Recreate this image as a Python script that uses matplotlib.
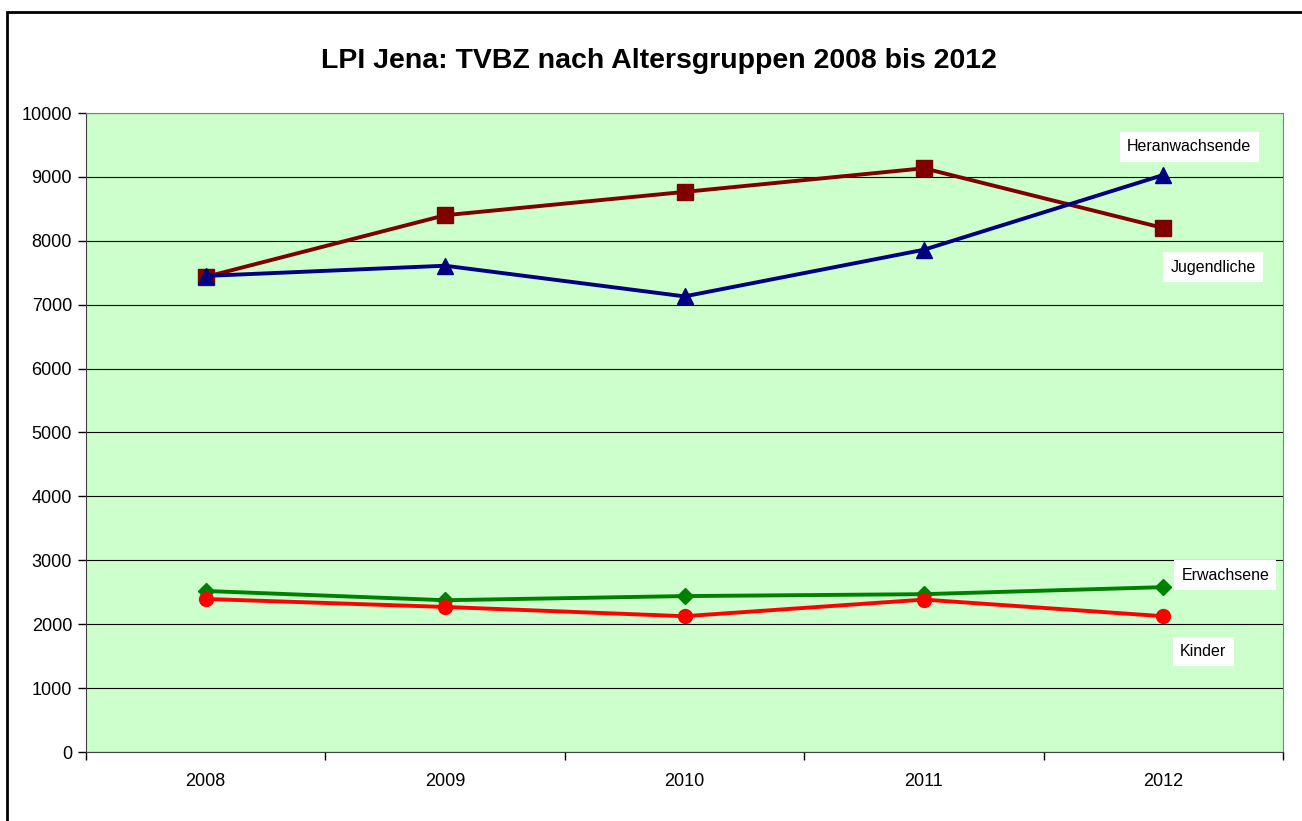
import matplotlib.pyplot as plt
import matplotlib.patches as patches
import numpy as np

# Data
years = ['2008', '2009', '2010', '2011', '2012']
heranwachsende = [7450, 7610, 7130, 7860, 9030]
jugendliche = [7435, 8400, 8765, 9135, 8200]
erwachsene = [2520, 2375, 2440, 2470, 2580]
kinder = [2395, 2270, 2125, 2385, 2125]

plt.rcParams['font.family'] = ['Liberation Sans', 'DejaVu Sans']

fig = plt.figure(figsize=(13.02, 8.21), dpi=100)
W, H = 1302, 821
ax = fig.add_axes([86/W, 1-752/H, (1283-86)/W, (752-113)/H])
ax.set_facecolor('#CCFFCC')

x = np.arange(len(years))

ax.plot(x, jugendliche, color='#800000', lw=2.8, marker='s', ms=11, zorder=3)
ax.plot(x, heranwachsende, color='#000080', lw=2.8, marker='^', ms=11, zorder=4)
ax.plot(x, erwachsene, color='#008000', lw=2.8, marker='D', ms=8, zorder=3)
ax.plot(x, kinder, color='#FF0000', lw=2.8, marker='o', ms=10, zorder=3)

# series name labels next to the last point
lab = dict(textcoords='offset pixels', ha='center', va='center', fontsize=11.5,
           bbox=dict(boxstyle='square,pad=0.45', fc='white', ec='none'))
ax.annotate('Heranwachsende', (x[-1], heranwachsende[-1]), xytext=(26, 28), **lab)
ax.annotate('Jugendliche', (x[-1], jugendliche[-1]), xytext=(50, -39), **lab)
ax.annotate('Erwachsene', (x[-1], erwachsene[-1]), xytext=(62, 12), **lab)
ax.annotate('Kinder', (x[-1], kinder[-1]), xytext=(40, -35), **lab)

ax.set_xlim(-0.5, 4.5)
ax.set_ylim(0, 10000)
ax.set_yticks(np.arange(0, 10001, 1000))
ax.yaxis.grid(True, color='black', lw=0.8)
ax.set_axisbelow(True)

ax.set_xticks(x)
ax.set_xticklabels(years)
ax.set_xticks(np.arange(-0.5, 5, 1), minor=True)
ax.tick_params(axis='x', which='major', length=0, pad=15, labelsize=13)
ax.tick_params(axis='x', which='minor', length=6, width=1, direction='out')
ax.tick_params(axis='y', length=6, width=1, labelsize=13, pad=4)

for s in ['top', 'right']:
    ax.spines[s].set_color('#808080')
ax.spines['left'].set_color('#404040')
ax.spines['bottom'].set_color('#404040')

fig.text(659/W, 1-61/H, 'LPI Jena: TVBZ nach Altersgruppen 2008 bis 2012',
         ha='center', va='center', fontsize=20.5, fontweight='bold')

# outer chart frame
frame = patches.Rectangle((7/W, -0.1), 1.2, 1.1-12/H, transform=fig.transFigure,
                          fill=False, ec='black', lw=2)
fig.patches.append(frame)

plt.savefig('out.png', dpi=100)
